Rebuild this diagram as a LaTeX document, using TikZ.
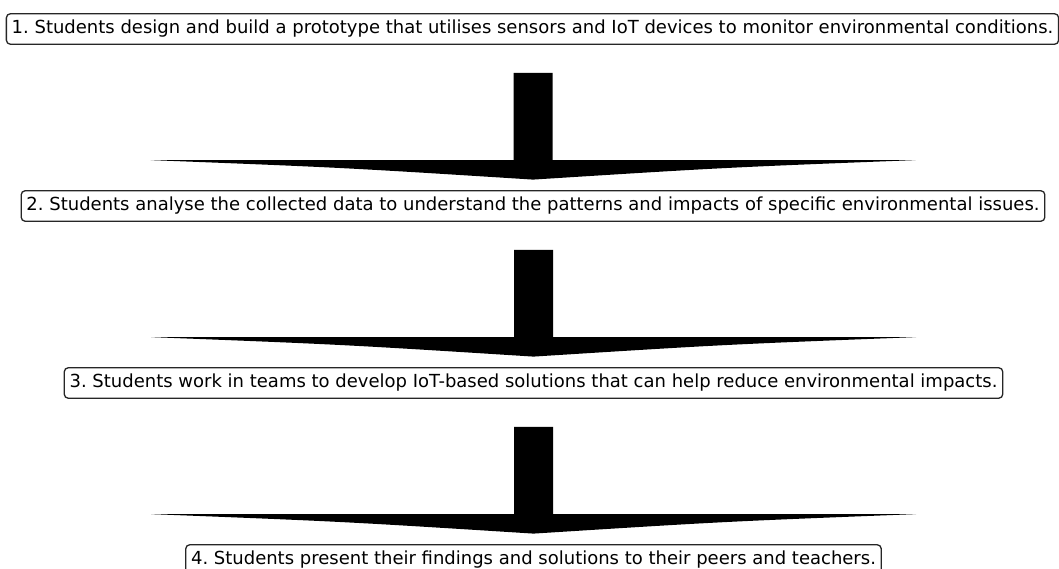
\documentclass[tikz,border=0pt]{standalone}
\usepackage{fontspec}
\setmainfont{DejaVu Sans}
\usetikzlibrary{calc}
\frenchspacing
\tikzset{
  stepbox/.style={draw=black!85, line width=1.3pt, rounded corners=4pt, fill=white,
    inner xsep=5.3pt, inner ysep=0pt, minimum height=30.5pt,
    font=\fontsize{18}{20}\selectfont, text=black, anchor=center},
}
\newcommand{\flowarrow}[2]{%
  \fill[black] let \p1=($(#1.south)+(0,-28)$), \p2=($(#2.north)+(0,10.5)$) in
   (\x2,\y2) .. controls (\x2+190pt,\y2+12pt) .. (\x2+382.5pt,\y2+19.5pt) -- (\x2+19.5pt,\y2+19.5pt)
   -- (\x2+19.5pt,\y1) -- (\x2-19.5pt,\y1) -- (\x2-19.5pt,\y2+19.5pt)
   -- (\x2-382.5pt,\y2+19.5pt) .. controls (\x2-190pt,\y2+12pt) .. (\x2,\y2) -- cycle;}
\begin{document}
\begin{tikzpicture}[x=1pt,y=1pt]
\useasboundingbox (0,0) rectangle (1059,-569);
\clip (0,0) rectangle (1059,-569);
\fill[white] (0,0) rectangle (1059,-569);
\node[stepbox] (b1) at (532.5,-29) {1. Students design and build a prototype that utilises sensors and IoT devices to monitor environmental conditions.};
\node[stepbox] (b2) at (533,-206) {2. Students analyse the collected data to understand the patterns and impacts of specific environmental issues.};
\node[stepbox] (b3) at (533.5,-383) {3. Students work in teams to develop IoT-based solutions that can help reduce environmental impacts.};
\node[stepbox] (b4) at (533.5,-560) {4. Students present their findings and solutions to their peers and teachers.};
\flowarrow{b1}{b2}
\flowarrow{b2}{b3}
\flowarrow{b3}{b4}
\end{tikzpicture}
\end{document}
